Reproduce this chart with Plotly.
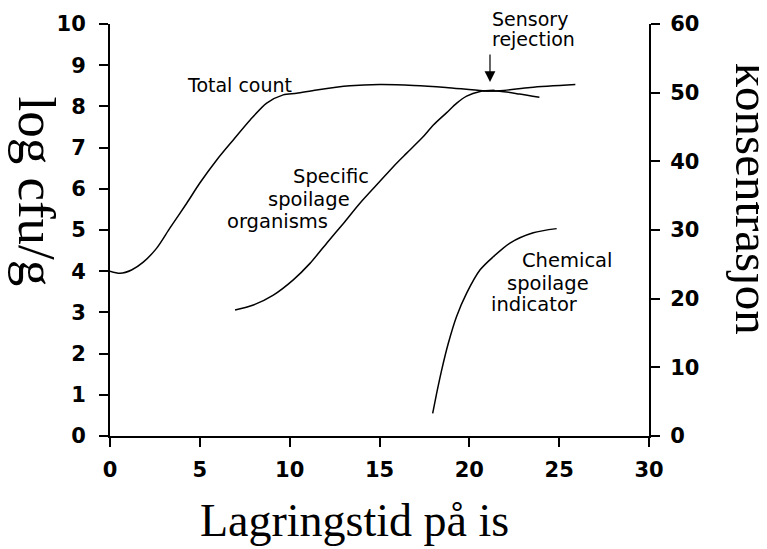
import plotly.graph_objects as go

# Total count (log cfu/g) - main curve
total_x = [0, 0.56, 1.2, 1.85, 2.6, 3.34, 4.27, 5.0, 5.94, 6.85, 7.8, 8.72, 9.64, 10.39,
           11.5, 13.36, 15.0, 16.9, 18.7, 20.76, 21.7, 23.4, 25.9]
total_y = [4.0, 3.95, 4.03, 4.22, 4.56, 5.05, 5.65, 6.14, 6.7, 7.18, 7.67, 8.08, 8.28, 8.32,
           8.40, 8.5, 8.53, 8.51, 8.46, 8.38, 8.38, 8.46, 8.53]
# Lower branch of total count after sensory rejection
branch_x = [20.76, 21.7, 22.8, 23.9]
branch_y = [8.38, 8.37, 8.30, 8.22]

# Specific spoilage organisms (log cfu/g)
sso_x = [6.96, 7.98, 9.09, 10.2, 11.13, 12.06, 12.99, 13.91, 15.0, 15.95, 16.5, 17.4,
         18.0, 18.74, 19.3, 19.85, 20.6, 21.4]
sso_y = [3.06, 3.18, 3.42, 3.79, 4.19, 4.68, 5.16, 5.65, 6.17, 6.62, 6.86, 7.25,
         7.55, 7.85, 8.08, 8.25, 8.36, 8.39]

# Chemical spoilage indicator (konsentrasjon, right axis)
chem_x = [17.96, 18.18, 18.46, 18.83, 19.29, 19.85, 20.6, 21.33, 22.26, 23.56, 24.86]
chem_y = [3.3, 6.2, 9.6, 13.5, 17.4, 20.8, 24.2, 26.1, 28.1, 29.6, 30.2]

x_ticks = [0, 5, 10, 15, 20, 25, 30]
left_ticks = list(range(0, 11))
right_ticks = [0, 10, 20, 30, 40, 50, 60]

line_style = dict(color="black", width=1.5, shape="spline", smoothing=0.8)

fig = go.Figure()
fig.add_trace(go.Scatter(x=total_x, y=total_y, mode="lines", line=line_style, showlegend=False))
fig.add_trace(go.Scatter(x=branch_x, y=branch_y, mode="lines", line=line_style, showlegend=False))
fig.add_trace(go.Scatter(x=sso_x, y=sso_y, mode="lines", line=line_style, showlegend=False))
fig.add_trace(go.Scatter(x=chem_x, y=chem_y, mode="lines", line=line_style, yaxis="y2",
                         showlegend=False))

tick_font = dict(family="DejaVu Sans", size=21, color="black", weight="bold")
axis_common = dict(showgrid=False, zeroline=False, showline=True, linecolor="black",
                   linewidth=2, ticks="outside", ticklen=9, tickwidth=1.5,
                   tickcolor="black", tickfont=tick_font, automargin=False)

# page body has an 8px margin: figure sized so it ends at the window edge
fig.update_layout(
    width=759, height=541,
    margin=dict(l=102, r=118, t=16, b=113, autoexpand=False),
    paper_bgcolor="white", plot_bgcolor="white",
    xaxis=dict(range=[0, 30], tickvals=x_ticks, ticklabelstandoff=5, **axis_common),
    yaxis=dict(range=[0, 10], tickvals=left_ticks, ticklabelstandoff=9, **axis_common),
    yaxis2=dict(range=[0, 60], tickvals=right_ticks, overlaying="y", side="right",
                ticklabelstandoff=6, **axis_common),
)

lab_font = dict(family="DejaVu Sans", size=19.5, color="black")
serif = "Liberation Serif"
anns = [
    dict(x=7.18, y=8.52, text="Total count", font=dict(family="DejaVu Sans", size=19, color="black")),
    dict(x=12.3, y=6.31, text="Specific", font=lab_font),
    dict(x=11.07, y=5.75, text="spoilage", font=lab_font),
    dict(x=9.35, y=5.2, text="organisms", font=lab_font),
    dict(x=25.46, y=4.25, text="Chemical", font=lab_font),
    dict(x=24.4, y=3.69, text="spoilage", font=lab_font),
    dict(x=23.62, y=3.19, text="indicator", font=lab_font),
]
for a in anns:
    fig.add_annotation(xref="x", yref="y", xanchor="center", yanchor="middle",
                       showarrow=False, **a)

# Sensory rejection label (above the plot top, so paper y)
sens_font = dict(family="DejaVu Sans", size=19, color="black")
fig.add_annotation(x=21.15, y=1.012, xref="x", yref="paper", text="Sensory", font=sens_font,
                   xanchor="left", yanchor="middle", showarrow=False)
fig.add_annotation(x=21.15, y=0.964, xref="x", yref="paper", text="rejection", font=sens_font,
                   xanchor="left", yanchor="middle", showarrow=False)

# Sensory rejection arrow
fig.add_annotation(x=21.15, y=8.59, xref="x", yref="y", text="", showarrow=True,
                   ax=0, ay=-29, arrowhead=2, arrowsize=1.8, arrowwidth=1.2,
                   arrowcolor="black")

# Axis titles
fig.add_annotation(xref="paper", yref="paper", x=0.4545, y=-0.204, text="Lagringstid på is",
                   showarrow=False, xanchor="center", yanchor="middle",
                   font=dict(family=serif, size=46, color="black"))
fig.add_annotation(xref="paper", yref="paper", x=-0.135, y=0.593, text="log cfu/g",
                   showarrow=False, xanchor="center", yanchor="middle", textangle=90,
                   font=dict(family=serif, size=53, color="black"))
fig.add_annotation(xref="paper", yref="paper", x=1.192, y=0.575, text="konsentrasjon",
                   showarrow=False, xanchor="center", yanchor="middle", textangle=90,
                   font=dict(family=serif, size=49, color="black"))

fig.write_html("out.html")
